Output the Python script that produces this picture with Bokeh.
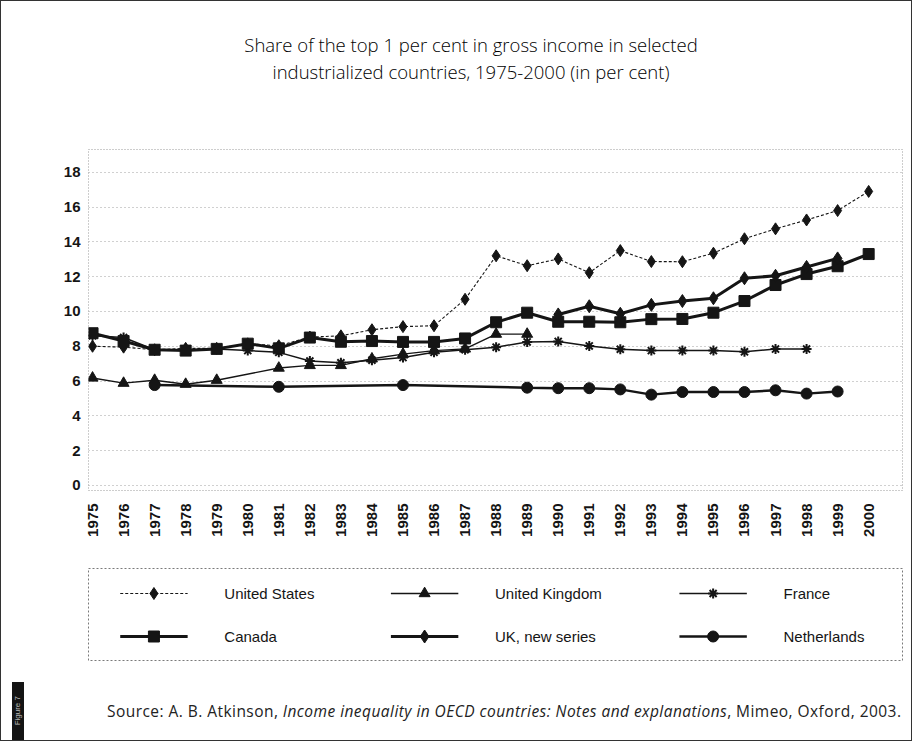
import math
from bokeh.plotting import figure
from bokeh.models import ColumnDataSource, FixedTicker, Div, Range1d
from bokeh.layouts import column
from bokeh.embed import file_html
from bokeh.resources import INLINE
from bokeh.core.properties import value

# ---------------- data ----------------
years = list(range(1975, 2001))
year_labels = [str(y) for y in years]
y_ticks = [0, 2, 4, 6, 8, 10, 12, 14, 16, 18]

us_years = list(range(1975, 2001))
us = [8.0, 7.95, 7.8, 7.88, 7.88, 8.14, 8.03, 8.53, 8.6, 8.95, 9.13, 9.18, 10.7,
      13.2, 12.63, 13.02, 12.23, 13.5, 12.87, 12.86, 13.35, 14.18, 14.75, 15.26,
      15.8, 16.9]

uk_years = [1975, 1976, 1977, 1978, 1979, 1981, 1982, 1983, 1984, 1985, 1986,
            1987, 1988, 1989]
uk = [6.18, 5.88, 6.05, 5.82, 6.05, 6.75, 6.9, 6.9, 7.28, 7.55, 7.75, 7.85, 8.7, 8.7]

france_years = list(range(1975, 1999))
france = [8.6, 8.5, 7.8, 7.8, 7.85, 7.75, 7.65, 7.15, 7.05, 7.2, 7.35, 7.65, 7.8,
          7.95, 8.25, 8.28, 8.02, 7.83, 7.75, 7.75, 7.75, 7.68, 7.84, 7.84]

canada_years = list(range(1975, 2001))
canada = [8.75, 8.3, 7.8, 7.75, 7.85, 8.15, 7.88, 8.5, 8.26, 8.3, 8.25, 8.25, 8.45,
          9.38, 9.93, 9.41, 9.41, 9.38, 9.56, 9.57, 9.93, 10.6, 11.52, 12.15, 12.6,
          13.3]

uk_new_years = list(range(1990, 2000))
uk_new = [9.83, 10.3, 9.87, 10.38, 10.6, 10.76, 11.91, 12.05, 12.56, 13.05]

nl_years = [1977, 1981, 1985, 1989, 1990, 1991, 1992, 1993, 1994, 1995, 1996,
            1997, 1998, 1999]
netherlands = [5.77, 5.67, 5.77, 5.62, 5.59, 5.59, 5.52, 5.22, 5.37, 5.37, 5.37,
               5.47, 5.28, 5.4]

series_names = ["United States", "United Kingdom", "France",
                "Canada", "UK, new series", "Netherlands"]

title_lines = ["Share of the top 1 per cent in gross income in selected",
               "industrialized countries, 1975-2000 (in per cent)"]

INK = "#151515"
styles = [
    dict(x=us_years, y=us, marker="diamond", size=12, lw=1.1, dash="3 2"),
    dict(x=uk_years, y=uk, marker="triangle", size=11, lw=1.4, dash="solid"),
    dict(x=france_years, y=france, marker="asterisk", size=10, lw=1.5, dash="solid"),
    dict(x=canada_years, y=canada, marker="square", size=11, lw=3.0, dash="solid"),
    dict(x=uk_new_years, y=uk_new, marker="diamond", size=13, lw=3.0, dash="solid"),
    dict(x=nl_years, y=netherlands, marker="circle", size=11, lw=2.4, dash="solid"),
]

W = 910

# ---------------- title ----------------
title_div = Div(
    text=('<div style="box-sizing:border-box;width:910px;padding-left:30px;'
          'padding-top:30px;text-align:center;font-family:\'Open Sans\';'
          'font-weight:300;font-size:18.5px;line-height:27px;color:#000;">'
          + title_lines[0] + '<br>' + title_lines[1] + '</div>'),
    width=W, height=100, margin=(0, 0, 0, 0))

# ---------------- main chart ----------------
p = figure(width=W, height=459,
           x_range=Range1d(1974.87, 2001.09), y_range=Range1d(-0.29, 19.31),
           output_backend="svg", toolbar_location=None, title_location=None,
           min_border_left=82, min_border_right=9,
           min_border_top=48, min_border_bottom=70)

p.background_fill_color = "white"
p.border_fill_color = "white"
p.outline_line_color = "#9a9a9a"
p.outline_line_dash = "1 2"
p.outline_line_width = 1

p.xaxis.ticker = FixedTicker(ticks=years)
p.xaxis.major_label_overrides = {y: lab for y, lab in zip(years, year_labels)}
p.xaxis.major_label_orientation = math.pi / 2
p.xaxis.major_label_text_font = "Liberation Sans"
p.xaxis.major_label_text_font_style = "bold"
p.xaxis.major_label_text_font_size = "15px"
p.xaxis.major_label_text_color = INK
p.xaxis.major_label_standoff = 7
p.xaxis.axis_line_color = None
p.xaxis.major_tick_line_color = None
p.xaxis.minor_tick_line_color = None

p.yaxis.ticker = FixedTicker(ticks=y_ticks)
p.yaxis.major_label_text_font = "Liberation Sans"
p.yaxis.major_label_text_font_style = "bold"
p.yaxis.major_label_text_font_size = "15px"
p.yaxis.major_label_text_color = INK
p.yaxis.major_label_standoff = 2
p.yaxis.axis_line_color = None
p.yaxis.major_tick_line_color = None
p.yaxis.minor_tick_line_color = None

p.xgrid.grid_line_color = None
p.ygrid.ticker = FixedTicker(ticks=y_ticks)
p.ygrid.grid_line_color = "#a0a0a0"
p.ygrid.grid_line_dash = "1 3"
p.ygrid.grid_line_width = 1

for st in styles:
    src = ColumnDataSource(dict(x=st["x"], y=st["y"]))
    p.line("x", "y", source=src, line_color=INK, line_width=st["lw"],
           line_dash=st["dash"])
    if st["marker"] == "asterisk":
        p.scatter("x", "y", source=src, marker="asterisk", size=st["size"],
                  line_color=INK, line_width=2)
    else:
        p.scatter("x", "y", source=src, marker=st["marker"], size=st["size"],
                  fill_color=INK, line_color=INK, line_width=1)

# ---------------- legend box ----------------
leg = figure(width=W, height=108,
             x_range=Range1d(0, 821), y_range=Range1d(0, 92),
             output_backend="svg", toolbar_location=None,
             x_axis_location=None, y_axis_location=None,
             min_border_left=87, min_border_right=2,
             min_border_top=8, min_border_bottom=8)
leg.grid.visible = False
leg.outline_line_color = "#7a7a7a"
leg.outline_line_dash = "2 2"
leg.outline_line_width = 1
leg.background_fill_color = "white"
leg.border_fill_color = "white"

col_x = [32, 305, 596]
row_y = [67, 24]
sample_len = 68
for i, (name, st) in enumerate(zip(series_names, styles)):
    cx = col_x[i % 3]
    cy = row_y[i // 3]
    leg.line([cx, cx + sample_len], [cy, cy], line_color=INK,
             line_width=st["lw"], line_dash=st["dash"])
    if st["marker"] == "asterisk":
        leg.scatter([cx + sample_len / 2], [cy], marker="asterisk",
                    size=st["size"], line_color=INK, line_width=2)
    else:
        leg.scatter([cx + sample_len / 2], [cy], marker=st["marker"],
                    size=st["size"], fill_color=INK, line_color=INK)
    leg.text([cx + sample_len + 37], [cy], text=[name],
             text_font=value("Liberation Sans"), text_font_size=value("15px"),
             text_color=INK, text_baseline="middle", text_align="left")

# ---------------- source line ----------------
src_html = (
    '<div style="position:relative;width:910px;height:72px;">'
    '<div style="position:absolute;left:11px;top:14px;width:12px;height:58px;'
    'background:#141414;display:flex;align-items:center;justify-content:center;">'
    '<span style="writing-mode:vertical-rl;transform:rotate(180deg);'
    'font-family:\'Liberation Sans\';font-size:8px;color:#bdbdbd;">Figure 7</span>'
    '</div>'
    '<div style="position:absolute;left:106px;top:32px;font-family:\'Open Sans\';'
    'font-size:15.5px;letter-spacing:0.45px;color:#222;white-space:nowrap;">'
    'Source: A. B. Atkinson, <i>Income inequality in OECD countries: Notes and '
    'explanations</i>, Mimeo, Oxford, 2003.</div>'
    '</div>'
)
src_div = Div(text=src_html, width=W, height=72, margin=(0, 0, 0, 0))

layout = column(title_div, p, leg, src_div, spacing=0,
                styles={"border": "1px solid #333", "background": "white"})

open("out.html", "w").write(file_html(layout, INLINE))
